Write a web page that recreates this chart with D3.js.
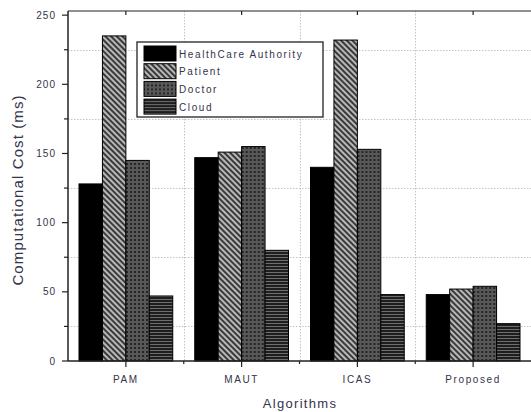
<!DOCTYPE html>
<html>
<head>
<meta charset="utf-8">
<script src="https://d3js.org/d3.v7.min.js"></script>
<style>
  body { margin: 0; background: #fff; }
  svg text { font-family: Arial, "Liberation Sans", sans-serif; fill: #34344a; }
</style>
</head>
<body>
<svg id="chart" width="531" height="412"></svg>
<script>
// Chart data
const algorithms = ["PAM", "MAUT", "ICAS", "Proposed"];
const series = ["HealthCare Authority", "Patient", "Doctor", "Cloud"];
const healthCare = [128, 147, 140, 48];
const patient = [235, 151, 232, 52];
const doctor = [145, 155, 153, 54];
const cloud = [47, 80, 48, 27];
const yTicks = [0, 50, 100, 150, 200, 250];
const yMinor = [25, 75, 125, 175, 225];

const values = [healthCare, patient, doctor, cloud];
const patternIds = ["solid", "diag", "dots", "hlines"];

const svg = d3.select("#chart");
const plotLeft = 68, plotRight = 531, plotTop = 11, plotBottom = 361;

const x = d3.scaleBand().domain(algorithms).range([plotLeft, plotRight])
    .paddingInner(0.19).paddingOuter(0.095);
const xs = d3.scaleBand().domain(series).range([0, x.bandwidth()]);
const y = d3.scaleLinear().domain([0, 253]).range([plotBottom, plotTop]);

// category centers and the boundaries midway between them
const centers = algorithms.map(a => x(a) + x.bandwidth() / 2);
const mids = centers.slice(1).map((c, i) => (c + centers[i]) / 2);

// Patterns
const defs = svg.append("defs");

const diag = defs.append("pattern").attr("id", "diag")
    .attr("patternUnits", "userSpaceOnUse").attr("width", 4).attr("height", 4)
    .attr("patternTransform", "rotate(45)");
diag.append("rect").attr("width", 4).attr("height", 4).attr("fill", "#3a3a3a");
diag.append("rect").attr("width", 4).attr("height", 2).attr("fill", "#b8b8b8");

const dots = defs.append("pattern").attr("id", "dots")
    .attr("patternUnits", "userSpaceOnUse").attr("width", 4).attr("height", 4);
dots.append("rect").attr("width", 4).attr("height", 4).attr("fill", "#262626");
dots.append("circle").attr("cx", 2).attr("cy", 2).attr("r", 1.3)
    .attr("fill", "none").attr("stroke", "#8c8c8c").attr("stroke-width", 0.8);

const hlines = defs.append("pattern").attr("id", "hlines")
    .attr("patternUnits", "userSpaceOnUse").attr("width", 4).attr("height", 3);
hlines.append("rect").attr("width", 4).attr("height", 3).attr("fill", "#1e1e1e");
hlines.append("rect").attr("y", 2).attr("width", 4).attr("height", 1).attr("fill", "#6e6e6e");

const fillFor = i => i === 0 ? "#000" : "url(#" + patternIds[i] + ")";

// Grid lines (dotted)
const grid = svg.append("g").attr("stroke", "#c4c4c4").attr("stroke-width", 1)
    .attr("stroke-dasharray", "1.5,1.5");
grid.selectAll(".hg").data(yMinor).join("line")
    .attr("x1", plotLeft).attr("x2", plotRight)
    .attr("y1", d => Math.round(y(d)) + 0.5).attr("y2", d => Math.round(y(d)) + 0.5);
grid.selectAll(".vg").data(mids).join("line")
    .attr("x1", d => Math.round(d) + 0.5).attr("x2", d => Math.round(d) + 0.5)
    .attr("y1", plotTop).attr("y2", plotBottom);

// Bars
const groups = svg.append("g").selectAll("g").data(algorithms).join("g")
    .attr("transform", d => "translate(" + x(d) + ",0)");

groups.selectAll("rect")
    .data((a, ai) => series.map((s, si) => ({ s: s, si: si, v: values[si][ai] })))
    .join("rect")
    .attr("x", d => xs(d.s))
    .attr("y", d => y(d.v))
    .attr("width", xs.bandwidth())
    .attr("height", d => y(0) - y(d.v))
    .attr("fill", d => fillFor(d.si))
    .attr("stroke", "#000")
    .attr("stroke-width", 1);

// Axes frame
const axisColor = "#222";
svg.append("line").attr("x1", plotLeft).attr("x2", plotRight).attr("y1", plotBottom).attr("y2", plotBottom)
    .attr("stroke", axisColor).attr("stroke-width", 1.5);
svg.append("line").attr("x1", plotLeft).attr("x2", plotRight).attr("y1", plotTop).attr("y2", plotTop)
    .attr("stroke", axisColor).attr("stroke-width", 1.2);
svg.append("line").attr("x1", plotLeft).attr("x2", plotLeft).attr("y1", plotTop).attr("y2", plotBottom)
    .attr("stroke", axisColor).attr("stroke-width", 1.5);

// Left axis ticks
svg.selectAll(".ytick").data(yTicks).join("line")
    .attr("x1", plotLeft - 6).attr("x2", plotLeft)
    .attr("y1", d => y(d)).attr("y2", d => y(d))
    .attr("stroke", axisColor).attr("stroke-width", 1.2);
svg.selectAll(".yminor").data(yMinor).join("line")
    .attr("x1", plotLeft - 4).attr("x2", plotLeft)
    .attr("y1", d => y(d)).attr("y2", d => y(d))
    .attr("stroke", axisColor).attr("stroke-width", 1.2);
svg.selectAll(".ylab").data(yTicks).join("text")
    .attr("x", plotLeft - 12).attr("y", d => y(d) + 3.5)
    .attr("text-anchor", "end").attr("font-size", 10).attr("letter-spacing", 1)
    .text(d => d);

// Bottom axis ticks
svg.selectAll(".xtick").data(centers).join("line")
    .attr("x1", d => d).attr("x2", d => d).attr("y1", plotBottom).attr("y2", plotBottom + 6)
    .attr("stroke", axisColor).attr("stroke-width", 1.2);
svg.selectAll(".xminor").data(mids).join("line")
    .attr("x1", d => d).attr("x2", d => d).attr("y1", plotBottom).attr("y2", plotBottom + 3)
    .attr("stroke", axisColor).attr("stroke-width", 1.2);
// Top axis ticks
svg.selectAll(".ttick").data(centers).join("line")
    .attr("x1", d => d).attr("x2", d => d).attr("y1", plotTop).attr("y2", plotTop + 4)
    .attr("stroke", axisColor).attr("stroke-width", 1.2);

svg.selectAll(".xlab").data(algorithms).join("text")
    .attr("x", a => x(a) + x.bandwidth() / 2)
    .attr("y", plotBottom + 22)
    .attr("text-anchor", "middle").attr("font-size", 10).attr("letter-spacing", 1.6)
    .text(d => d);

// Axis titles
svg.append("text").attr("x", 300).attr("y", 408)
    .attr("text-anchor", "middle").attr("font-size", 13).attr("letter-spacing", 1.3)
    .text("Algorithms");
svg.append("text")
    .attr("transform", "translate(23,190) rotate(-90)")
    .attr("text-anchor", "middle").attr("font-size", 15).attr("letter-spacing", 1.1)
    .text("Computational Cost (ms)");

// Legend
const legend = svg.append("g").attr("transform", "translate(137,42)");
legend.append("rect").attr("width", 186).attr("height", 75)
    .attr("fill", "#fff").attr("stroke", "#222").attr("stroke-width", 1.3);
const items = legend.selectAll(".item").data(series).join("g")
    .attr("transform", (d, i) => "translate(7," + (4 + i * 17.7) + ")");
items.append("rect").attr("width", 32).attr("height", 15)
    .attr("fill", (d, i) => fillFor(i)).attr("stroke", "#000").attr("stroke-width", 1);
items.append("text").attr("x", 35).attr("y", 11.5)
    .attr("font-size", 10).attr("letter-spacing", 1.6)
    .text(d => d);
</script>
</body>
</html>
